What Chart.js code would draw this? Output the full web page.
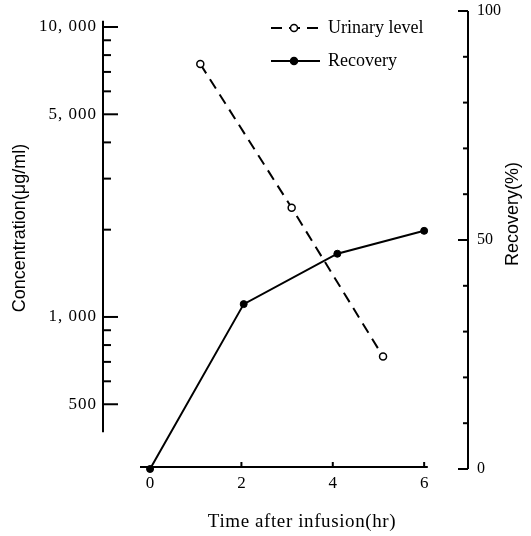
<!DOCTYPE html>
<html>
<head>
<meta charset="utf-8">
<script src="https://cdn.jsdelivr.net/npm/chart.js@4"></script>
<style>
  html, body { margin: 0; padding: 0; background: #fff; }
  #wrap { width: 531px; height: 536px; }
</style>
</head>
<body>
<div id="wrap"><canvas id="chart"></canvas></div>
<script>
// data
const urinaryHours = [1.1, 3.1, 5.1];
const urinaryLevel = [7450, 2380, 730];
const recoveryHours = [0, 2.05, 4.1, 6];
const recoveryPct = [0, 36, 47, 52];

// axes
const timeTicks = [0, 2, 4, 6];
const timeExtent = [-0.22, 6.08];
const concMajor = [500, 1000, 5000, 10000];
const concMajorLabels = ["500", "1, 000", "5, 000", "10, 000"];
const concMinor = [600, 700, 800, 900, 2000, 3000, 4000, 6000, 7000, 8000, 9000];
const concExtent = [400, 10500];
const recMajor = [0, 50, 100];
const recMinor = [10, 20, 30, 40, 60, 70, 80, 90];

const serif = '"Liberation Serif", "DejaVu Serif", serif';
const sans = '"Liberation Sans", Arial, sans-serif';

const axesPlugin = {
  id: "axes",
  afterDatasetsDraw(chart) {
    const { ctx, chartArea, scales } = chart;
    const { x, yL, yR } = scales;
    const left = chartArea.left;
    const right = chartArea.right;
    ctx.save();
    ctx.strokeStyle = "#000";
    ctx.fillStyle = "#000";
    ctx.lineWidth = 2;
    ctx.setLineDash([]);

    // left (log) axis
    ctx.beginPath();
    ctx.moveTo(left, yL.getPixelForValue(concExtent[0]));
    ctx.lineTo(left, yL.getPixelForValue(concExtent[1]));
    ctx.stroke();
    ctx.font = "17px " + serif;
    ctx.letterSpacing = "1px";
    ctx.textAlign = "right";
    ctx.textBaseline = "middle";
    concMajor.forEach((v, i) => {
      const py = yL.getPixelForValue(v);
      ctx.beginPath();
      ctx.moveTo(left, py);
      ctx.lineTo(left + 15, py);
      ctx.stroke();
      ctx.fillText(concMajorLabels[i], left - 6, py);
    });
    concMinor.forEach((v) => {
      const py = yL.getPixelForValue(v);
      ctx.beginPath();
      ctx.moveTo(left, py);
      ctx.lineTo(left + 8, py);
      ctx.stroke();
    });
    ctx.letterSpacing = "0px";

    // right (recovery) axis
    ctx.font = "16px " + serif;
    ctx.beginPath();
    ctx.moveTo(right, yR.getPixelForValue(0));
    ctx.lineTo(right, yR.getPixelForValue(100));
    ctx.stroke();
    ctx.textAlign = "left";
    recMajor.forEach((v) => {
      const py = yR.getPixelForValue(v);
      ctx.beginPath();
      ctx.moveTo(right - 10, py);
      ctx.lineTo(right, py);
      ctx.stroke();
      ctx.fillText(String(v), right + 9, py);
    });
    recMinor.forEach((v) => {
      const py = yR.getPixelForValue(v);
      ctx.beginPath();
      ctx.moveTo(right - 5, py);
      ctx.lineTo(right, py);
      ctx.stroke();
    });

    // time axis, sits on recovery 0
    const base = yR.getPixelForValue(0) - 2;
    ctx.beginPath();
    ctx.moveTo(x.getPixelForValue(timeExtent[0]), base);
    ctx.lineTo(x.getPixelForValue(timeExtent[1]), base);
    ctx.stroke();
    ctx.font = "17px " + serif;
    ctx.textAlign = "center";
    timeTicks.forEach((t) => {
      const px = x.getPixelForValue(t);
      if (t > 0) {
        ctx.beginPath();
        ctx.moveTo(px, base);
        ctx.lineTo(px, base - 5);
        ctx.stroke();
      }
      ctx.fillText(String(t), px, base + 17);
    });

    // titles
    ctx.font = "19px " + serif;
    ctx.letterSpacing = "0.6px";
    ctx.fillText("Time after infusion(hr)", 302, 522);
    ctx.letterSpacing = "0px";

    ctx.font = "18px " + sans;
    ctx.save();
    ctx.translate(20, 228);
    ctx.rotate(-Math.PI / 2);
    ctx.fillText("Concentration(\u03BCg/ml)", 0, 0);
    ctx.restore();

    ctx.save();
    ctx.translate(513, 214);
    ctx.rotate(-Math.PI / 2);
    ctx.fillText("Recovery(%)", 0, 0);
    ctx.restore();

    // legend
    const items = [
      { ds: chart.data.datasets[0], y: 28 },
      { ds: chart.data.datasets[1], y: 61 },
    ];
    ctx.font = "18px " + serif;
    ctx.textAlign = "left";
    items.forEach(({ ds, y }) => {
      ctx.lineWidth = 2;
      ctx.setLineDash(ds.borderDash || []);
      ctx.beginPath();
      ctx.moveTo(271, y);
      ctx.lineTo(320, y);
      ctx.stroke();
      ctx.setLineDash([]);
      ctx.beginPath();
      ctx.arc(294, y, 3.5, 0, Math.PI * 2);
      ctx.fillStyle = ds.pointBackgroundColor;
      ctx.fill();
      ctx.lineWidth = 1.5;
      ctx.stroke();
      ctx.fillStyle = "#000";
      ctx.fillText(ds.label, 328, y);
    });

    ctx.restore();
  },
};

new Chart(document.getElementById("chart"), {
  type: "line",
  data: {
    datasets: [
      {
        label: "Urinary level",
        data: urinaryHours.map((h, i) => ({ x: h, y: urinaryLevel[i] })),
        yAxisID: "yL",
        borderColor: "#000",
        borderWidth: 2,
        borderDash: [11, 7],
        pointRadius: 3.5,
        pointBorderWidth: 1.5,
        pointBackgroundColor: "#fff",
        pointBorderColor: "#000",
        tension: 0,
        clip: false,
      },
      {
        label: "Recovery",
        data: recoveryHours.map((h, i) => ({ x: h, y: recoveryPct[i] })),
        yAxisID: "yR",
        borderColor: "#000",
        borderWidth: 2,
        pointRadius: 3.5,
        pointBorderWidth: 1,
        pointBackgroundColor: "#000",
        pointBorderColor: "#000",
        tension: 0,
        clip: false,
      },
    ],
  },
  options: {
    responsive: true,
    maintainAspectRatio: false,
    animation: false,
    layout: { padding: { left: 103, right: 63, top: 11, bottom: 67 } },
    plugins: { legend: { display: false }, tooltip: { enabled: false } },
    scales: {
      x: { type: "linear", min: -1.03, max: 6.96, display: false },
      yL: { type: "logarithmic", position: "left", min: 299, max: 11355, display: false },
      yR: { type: "linear", position: "right", min: 0, max: 100, display: false },
    },
  },
  plugins: [axesPlugin],
});
</script>
</body>
</html>
